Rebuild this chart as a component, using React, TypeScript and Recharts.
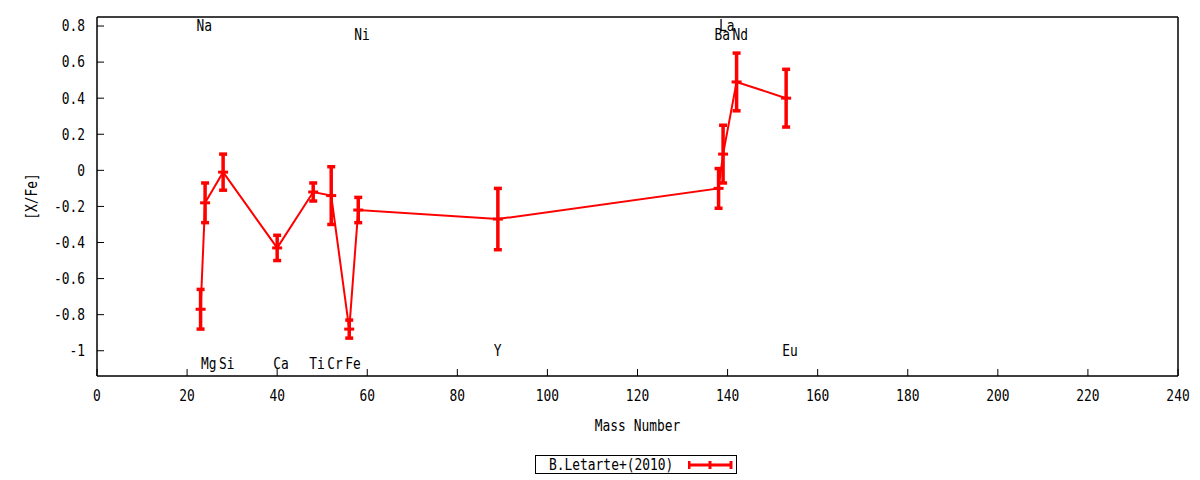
import {
  ComposedChart,
  Line,
  Scatter,
  ErrorBar,
  XAxis,
  YAxis,
  ReferenceArea,
} from "recharts";

// element, mass number, [X/Fe] and its error
const ELEMENTS = ["Na", "Mg", "Si", "Ca", "Ti", "Cr", "Fe", "Ni", "Y", "Ba", "La", "Nd", "Eu"];
const MASS = [23, 24, 28, 40, 48, 52, 56, 58, 89, 138, 139, 142, 153];
const XFE = [-0.77, -0.18, -0.01, -0.43, -0.12, -0.14, -0.88, -0.22, -0.27, -0.1, 0.09, 0.49, 0.4];
const XFE_ERR = [0.11, 0.11, 0.1, 0.07, 0.05, 0.16, 0.05, 0.07, 0.17, 0.11, 0.16, 0.16, 0.16];
// height at which each element name is written
const LABEL_Y = [0.8, -1.07, -1.07, -1.07, -1.07, -1.07, -1.07, 0.75, -1.0, 0.75, 0.8, 0.75, -1.0];

const X_TICKS = [0, 20, 40, 60, 80, 100, 120, 140, 160, 180, 200, 220, 240];
const Y_TICKS = [-1, -0.8, -0.6, -0.4, -0.2, 0, 0.2, 0.4, 0.6, 0.8];
const X_DOMAIN = [0, 240];
const Y_DOMAIN = [-1.14, 0.85];

const FONT = "'DejaVu Sans Mono', monospace";
const RED = "#ff0000";

const points = MASS.map((m, i) => ({ mass: m, value: XFE[i], err: XFE_ERR[i] }));
const labels = MASS.map((m, i) => ({ mass: m, value: LABEL_Y[i], name: ELEMENTS[i] }));

const fmt = (v: number) => (v === 0 ? "0" : String(Math.round(v * 10) / 10));

// gnuplot's font is tall and narrow: squeeze a bigger DejaVu Sans Mono
function Mono({ x, y, anchor = "start", rotate = 0, children }: any) {
  return (
    <text
      transform={`translate(${x},${y}) rotate(${rotate}) scale(0.86,1)`}
      textAnchor={anchor}
      dominantBaseline="central"
      fontFamily={FONT}
      fontSize={15}
      fill="#000"
    >
      {children}
    </text>
  );
}

function PointMark(props: any) {
  const { cx, cy } = props;
  if (cx == null || cy == null) return null;
  return <line x1={cx - 5} x2={cx + 5} y1={cy} y2={cy} stroke={RED} strokeWidth={3} />;
}

function ElementLabel(props: any) {
  const { cx, cy, payload } = props;
  return (
    <Mono x={cx - 4} y={cy}>
      {payload.name}
    </Mono>
  );
}

export default function App() {
  return (
    <div style={{ position: "relative", width: 1192, height: 472 }}>
      <ComposedChart width={1192} height={472} margin={{ top: 9, right: 22, bottom: 44, left: 9 }}>
        <XAxis
          xAxisId="b"
          dataKey="mass"
          type="number"
          domain={X_DOMAIN}
          ticks={X_TICKS}
          allowDataOverflow
          height={60}
          stroke="#000"
          tickSize={-7}
          tickMargin={22}
          tick={(p: any) => (
            <Mono x={p.x} y={p.y + 5} anchor="middle">
              {p.payload.value}
            </Mono>
          )}
          label={{
            content: ({ viewBox }: any) => (
              <Mono x={viewBox.x + viewBox.width / 2} y={viewBox.y + 50} anchor="middle">
                Mass Number
              </Mono>
            ),
          }}
        />
        <XAxis
          xAxisId="t"
          dataKey="mass"
          orientation="top"
          type="number"
          domain={X_DOMAIN}
          ticks={X_TICKS}
          allowDataOverflow
          height={1}
          mirror
          tick={false}
          tickSize={7}
          stroke="#000"
        />
        <YAxis
          yAxisId="l"
          type="number"
          domain={Y_DOMAIN}
          ticks={Y_TICKS}
          allowDataOverflow
          width={80}
          stroke="#000"
          tickSize={-7}
          tickMargin={19}
          tick={(p: any) => (
            <Mono x={p.x} y={p.y} anchor="end">
              {fmt(p.payload.value)}
            </Mono>
          )}
          label={{
            content: ({ viewBox }: any) => (
              <Mono x={viewBox.x + 15} y={viewBox.y + viewBox.height / 2} anchor="middle" rotate={-90}>
                [X/Fe]
              </Mono>
            ),
          }}
        />
        <YAxis
          yAxisId="r"
          orientation="right"
          type="number"
          domain={Y_DOMAIN}
          ticks={Y_TICKS}
          allowDataOverflow
          width={1}
          mirror
          tick={false}
          tickSize={7}
          stroke="#000"
        />
        <ReferenceArea
          xAxisId="b"
          yAxisId="l"
          x1={X_DOMAIN[0]}
          x2={X_DOMAIN[1]}
          y1={Y_DOMAIN[0]}
          y2={Y_DOMAIN[1]}
          fill="none"
          fillOpacity={0}
          stroke="#000"
          strokeWidth={1}
          strokeOpacity={1}
          ifOverflow="visible"
        />
        <Line
          xAxisId="b"
          yAxisId="l"
          data={points}
          dataKey="value"
          stroke={RED}
          strokeWidth={2}
          dot={<PointMark />}
          activeDot={false}
          isAnimationActive={false}
        >
          <ErrorBar dataKey="err" direction="y" width={4} stroke={RED} strokeWidth={3.5} />
        </Line>
        <Scatter
          xAxisId="t"
          yAxisId="r"
          data={labels}
          dataKey="value"
          shape={<ElementLabel />}
          isAnimationActive={false}
        />
      </ComposedChart>
      <div
        style={{
          position: "absolute",
          left: 527,
          top: 447,
          width: 200,
          height: 17,
          border: "1px solid #000",
          display: "flex",
          alignItems: "center",
          fontFamily: FONT,
          fontSize: 15,
          boxSizing: "content-box",
        }}
      >
        <span style={{ marginLeft: 13, display: "inline-block", transform: "scaleX(0.86)", transformOrigin: "left center", width: 130, whiteSpace: "nowrap" }}>
          B.Letarte+(2010)
        </span>
        <svg width={46} height={17} style={{ marginLeft: 9 }}>
          <line x1={1} x2={43} y1={9} y2={9} stroke={RED} strokeWidth={3} />
          <line x1={1} x2={1} y1={5} y2={13} stroke={RED} strokeWidth={3} />
          <line x1={22} x2={22} y1={5} y2={13} stroke={RED} strokeWidth={3} />
          <line x1={43} x2={43} y1={5} y2={13} stroke={RED} strokeWidth={3} />
        </svg>
      </div>
    </div>
  );
}
